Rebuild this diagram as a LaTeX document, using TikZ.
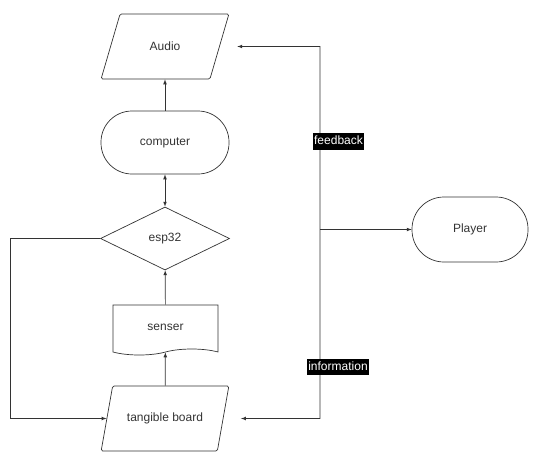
\documentclass[tikz,border=0pt]{standalone}
\usepackage{fontspec}
\setmainfont{Liberation Sans}
\usepackage{tikz}
\usetikzlibrary{arrows,shapes.geometric,shapes.symbols}

\definecolor{ink}{HTML}{333333}

\tikzset{
    box/.style={draw=ink, line width=0.7pt, text=ink, font=\fontsize{12}{14}\selectfont},
    io/.style={box, trapezium, trapezium left angle=63, trapezium right angle=117,
        trapezium stretches=true, minimum width=128pt, minimum height=65pt, rounded corners=1.5pt},
    term/.style={box, rectangle, rounded corners=31pt, minimum width=128pt, minimum height=63pt},
    decide/.style={box, diamond, minimum width=129pt, minimum height=63pt},
    paper/.style={box, tape, tape bend top=none, tape bend bottom=in and out,
        tape bend height=6pt, minimum width=105pt, minimum height=50pt},
    tag/.style={fill=black, text=white, inner xsep=1.5pt, inner ysep=2.5pt,
        text height=9pt, text depth=2.5pt, font=\fontsize{12}{14}\selectfont},
    link/.style={draw=ink, line width=0.7pt}
}

\begin{document}
\begin{tikzpicture}[x=1pt, y=-1pt, >=latex]

\useasboundingbox (0,0) rectangle (537,452);

\node [io] (audio) at (165,46.5) {Audio};
\node [term] (computer) at (165,142.5) {computer};
\node [decide] (esp) at (165,238.5) {esp32};
\node [paper] (senser) at (165.5,327) {senser};
\node [io] (board) at (165,418.5) {tangible board};
\node [term, minimum width=116pt, minimum height=65pt, rounded corners=32pt] (player) at (470,229.5) {Player};

\coordinate (top) at (320,46.5);
\coordinate (mid) at (320,229.5);
\coordinate (bot) at (320,418.5);
\coordinate (side) at (10,238.5);

\draw [link,->] (computer) -- (audio);
\draw [link,<->] (esp) -- (computer);
\draw [link,->] (senser) -- (esp);
\draw [link,->] (board) -- (senser);
\draw [link,->] (esp.west) -- (side) |- (board.west);

\draw [link,->] (bot) -- (top) -- ([xshift=17.5pt]audio.east);
\draw [link,->] (bot) -- ([xshift=17.5pt]board.east);
\draw [link,->] (mid) -- (player);

\node [tag] (fb) at (338.5,141.5) {feedback};
\node [tag] (info) at (338,367) {information};

\end{tikzpicture}
\end{document}
